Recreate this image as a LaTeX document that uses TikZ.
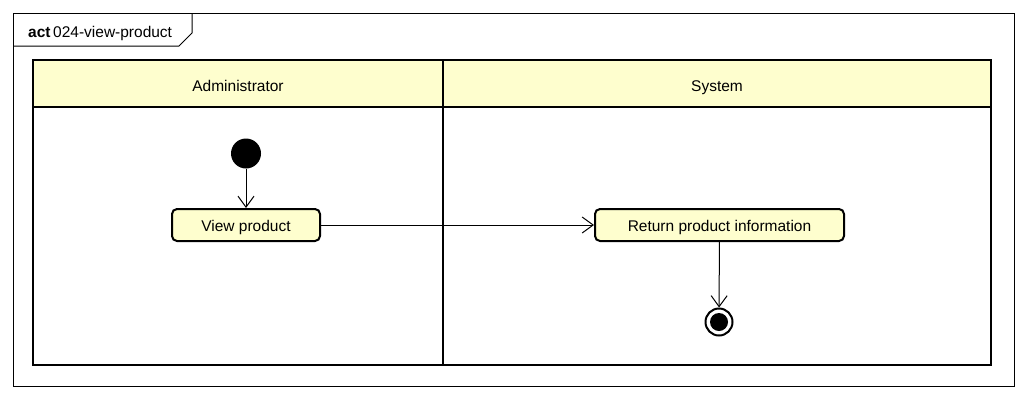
\documentclass[tikz,border=0pt]{standalone}
\usepackage{fontspec}
\setmainfont{Liberation Sans}
\usetikzlibrary{arrows.meta}
\definecolor{umlfill}{HTML}{FEFECE}
\tikzset{
  action/.style={draw, line width=2pt, rounded corners=5pt, fill=umlfill, minimum height=32pt, inner sep=0pt, text height=13pt, text depth=0pt, font=\fontsize{15.5}{18}\selectfont},
  lanehead/.style={text height=11pt, text depth=3.5pt, font=\fontsize{15.5}{18}\selectfont},
  flow/.style={line width=1pt, -{Straight Barb[length=11pt, width=16pt, line width=1pt]}},
}
\begin{document}
\begin{tikzpicture}[x=1pt, y=-1pt]
        \useasboundingbox (0,0) rectangle (1028,400);
        \draw [line width=1pt]        (13,13) rectangle (1014,386);              %frame
        \draw [line width=1pt]        (13,46) -- (179,46) -- (192,33) -- (192,13); %tab
        \node [anchor=base west, inner sep=0pt, font=\fontsize{15.5}{18}\selectfont] (title) at (28,37) {\textbf{act}\,024-view-product};

        \draw [line width=2.5pt, fill=umlfill] (33,60) rectangle (991,107);    %lane heads
        \draw [line width=2.5pt]      (33,60) rectangle (991,365);             %lanes
        \draw [line width=2.5pt]      (443,60) -- (443,365);                   %divider
        \node [lanehead] (admin)  at (238,88) {Administrator};
        \node [lanehead] (system) at (717,88) {System};

        \node [circle, fill=black, minimum size=30pt, inner sep=0pt] (start) at (246,153.5) {};
        \node [action, minimum width=148pt] (view) at (246,225) {View product};
        \node [action, minimum width=249pt] (info) at (719.5,225) {Return product information};
        \node [circle, draw, line width=2pt, fill=white, minimum size=27pt, inner sep=0pt] (stop) at (719,322) {};
        \fill (stop) circle (9);

        \draw [flow] (start) -- (view);
        \draw [flow] (view)  -- (info);
        \draw [flow] (info)  -- (stop);
\end{tikzpicture}
\end{document}
